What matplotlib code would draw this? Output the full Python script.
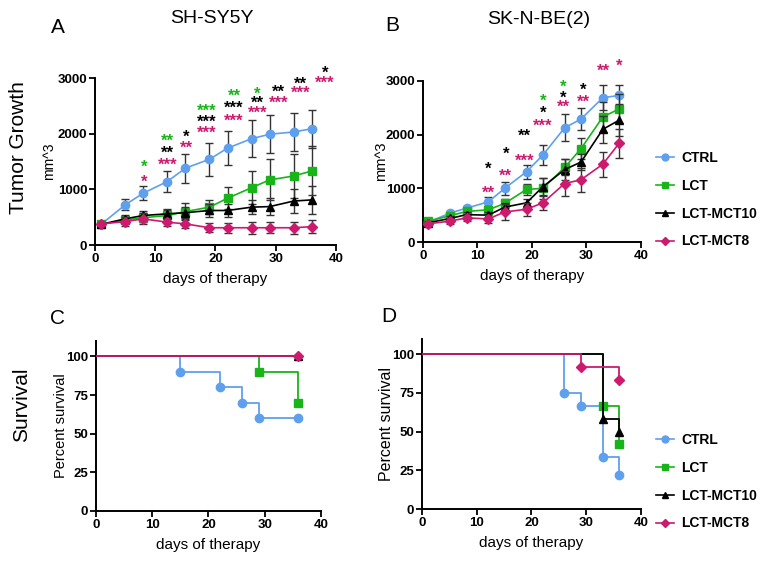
import matplotlib
matplotlib.use("Agg")
import matplotlib.pyplot as plt
from matplotlib.lines import Line2D

plt.rcParams["font.family"] = ["Liberation Sans", "DejaVu Sans"]

groups = ["CTRL", "LCT", "LCT-MCT10", "LCT-MCT8"]
colors = ["#5FA0EE", "#19B419", "#000000", "#CC1A6E"]
markers = ["o", "s", "^", "D"]

days = [1, 5, 8, 12, 15, 19, 22, 26, 29, 33, 36]

# Panel A: SH-SY5Y tumor volume (mm^3), mean and error
growth_a = [
    [370, 720, 930, 1140, 1380, 1540, 1740, 1910, 1990, 2030, 2090],
    [370, 450, 490, 530, 600, 680, 840, 1030, 1170, 1240, 1330],
    [370, 470, 530, 560, 580, 620, 620, 680, 690, 790, 810],
    [380, 420, 470, 410, 380, 310, 310, 310, 310, 310, 330],
]
err_a = [
    [30, 100, 125, 190, 260, 300, 310, 330, 340, 340, 340],
    [30, 60, 80, 100, 150, 130, 200, 300, 370, 400, 440],
    [30, 70, 80, 90, 100, 110, 110, 130, 160, 210, 250],
    [30, 80, 100, 70, 80, 80, 90, 110, 100, 110, 120],
]

# Panel B: SK-N-BE(2) tumor volume
growth_b = [
    [370, 540, 630, 750, 1000, 1310, 1620, 2130, 2290, 2690, 2730],
    [390, 490, 570, 600, 720, 980, 1000, 1390, 1740, 2330, 2480],
    [360, 440, 510, 500, 650, 730, 1030, 1350, 1490, 2100, 2270],
    [340, 390, 450, 430, 560, 610, 730, 1090, 1160, 1450, 1840],
]
err_b = [
    [30, 40, 50, 80, 120, 130, 180, 250, 200, 230, 190],
    [30, 40, 50, 70, 80, 100, 200, 150, 200, 280, 270],
    [30, 40, 50, 60, 80, 80, 170, 200, 150, 250, 300],
    [30, 50, 50, 80, 150, 120, 140, 230, 220, 230, 270],
]

# significance marks: (day, height, label, group index)
stars_a = [
    (8.1, 1500, "*", 1), (8.1, 1220, "*", 3),
    (12, 1970, "**", 1), (12, 1750, "**", 2), (12, 1540, "***", 3),
    (15.2, 2040, "*", 2), (15.2, 1830, "**", 3),
    (18.6, 2500, "***", 1), (18.6, 2310, "***", 2), (18.6, 2100, "***", 3),
    (23.1, 2770, "**", 1), (23.1, 2560, "***", 2), (23.1, 2330, "***", 3),
    (27, 2810, "*", 1), (27, 2640, "**", 2), (27, 2460, "***", 3),
    (30.5, 2840, "**", 2), (30.5, 2650, "***", 3),
    (34.1, 2990, "**", 2), (34.1, 2820, "***", 3),
    (38.2, 3190, "*", 2), (38.2, 3000, "***", 3),
]
stars_b = [
    (12, 1450, "*", 2), (12, 1020, "**", 3),
    (15.2, 1740, "*", 2), (15.2, 1330, "**", 3),
    (18.7, 2070, "**", 2), (18.7, 1610, "***", 3),
    (22, 2730, "*", 1), (22, 2510, "*", 2), (22, 2260, "***", 3),
    (25.8, 2990, "*", 1), (25.8, 2780, "*", 2), (25.8, 2620, "**", 3),
    (29.4, 2940, "*", 2), (29.4, 2710, "**", 3),
    (33.1, 3280, "**", 3),
    (36, 3370, "*", 3),
]

# Survival curves: event times and percent survival
surv_c_t = [[0, 15, 22, 26, 29, 36], [0, 29, 36], [0, 36], [0, 36]]
surv_c_s = [[100, 90, 80, 70, 60, 60], [100, 90, 70], [100, 100], [100, 100]]
surv_d_t = [[0, 26, 29, 33, 36], [0, 33, 36], [0, 33, 36], [0, 29, 36]]
surv_d_s = [[100, 75, 66.7, 33.3, 22.2], [100, 66.7, 41.7], [100, 58.3, 50], [100, 91.7, 83.3]]

fig = plt.figure(figsize=(7.66, 5.64), dpi=100)
ax_a = fig.add_axes([0.124, 0.5656, 0.3146, 0.2961])
ax_b = fig.add_axes([0.5522, 0.5709, 0.2846, 0.2855])
ax_c = fig.add_axes([0.1253, 0.0940, 0.2937, 0.3014])
ax_d = fig.add_axes([0.5509, 0.0975, 0.2859, 0.3023])


def style(ax):
    for s in ["top", "right"]:
        ax.spines[s].set_visible(False)
    for s in ["left", "bottom"]:
        ax.spines[s].set_linewidth(1.4)
    ax.tick_params(width=1.3, length=4, labelsize=9.5, pad=1.5)
    for lab in ax.get_xticklabels() + ax.get_yticklabels():
        lab.set_fontweight("bold")


def growth(ax, means, errs, stars):
    for i in range(4):
        ax.errorbar(days, means[i], yerr=errs[i], color=colors[i], marker=markers[i],
                    markersize=6 if markers[i] != "D" else 5, lw=1.2, ecolor="#333333",
                    elinewidth=1, capsize=3, capthick=1, clip_on=False, zorder=3 + i)
    for d, h, lab, g in stars:
        ax.annotate(lab, (d, h), xytext=(0, -4), textcoords="offset points", ha="center",
                    va="center", color=colors[g], fontsize=12, fontweight="bold",
                    annotation_clip=False)
    ax.set_xlim(0, 40)
    ax.set_ylim(0, 3000)
    ax.set_xticks([0, 10, 20, 30, 40])
    ax.set_yticks([0, 1000, 2000, 3000])
    ax.set_xlabel("days of therapy", fontsize=11, labelpad=5)
    style(ax)


def survival(ax, times, surv):
    for i in range(4):
        ax.step(times[i], surv[i], where="post", color=colors[i], lw=1.3, zorder=3 + i)
        ax.plot(times[i][1:], surv[i][1:], ls="none", marker=markers[i], color=colors[i],
                markersize=6 if markers[i] != "D" else 5, clip_on=False, zorder=3 + i)
    ax.set_xlim(0, 40)
    ax.set_ylim(0, 110)
    ax.set_xticks([0, 10, 20, 30, 40])
    ax.set_yticks([0, 25, 50, 75, 100])
    ax.set_xlabel("days of therapy", fontsize=11, labelpad=5)
    style(ax)


growth(ax_a, growth_a, err_a, stars_a)
growth(ax_b, growth_b, err_b, stars_b)
survival(ax_c, surv_c_t, surv_c_s)
survival(ax_d, surv_d_t, surv_d_s)

ax_a.set_ylabel("mm^3", fontsize=10, labelpad=1)
ax_b.set_ylabel("mm^3", fontsize=10.5, labelpad=-2)
ax_c.set_ylabel("Percent survival", fontsize=10.5, labelpad=-1)
ax_d.set_ylabel("Percent survival", fontsize=11.5, labelpad=-1)

fig.text(0.2768, 0.968, "SH-SY5Y", fontsize=14, ha="center", va="center")
fig.text(0.7037, 0.966, "SK-N-BE(2)", fontsize=14, ha="center", va="center")
fig.text(0.076, 0.952, "A", fontsize=15, ha="center", va="center")
fig.text(0.512, 0.955, "B", fontsize=15, ha="center", va="center")
fig.text(0.075, 0.436, "C", fontsize=15, ha="center", va="center")
fig.text(0.507, 0.438, "D", fontsize=15, ha="center", va="center")
fig.text(0.024, 0.738, "Tumor Growth", fontsize=15, rotation=90, ha="center", va="center")
fig.text(0.028, 0.282, "Survival", fontsize=15, rotation=90, ha="center", va="center")

handles = [Line2D([], [], color=colors[i], marker=markers[i], lw=1.2,
                  markersize=5 if markers[i] != "D" else 4) for i in range(4)]
for y in [0.745, 0.245]:
    fig.legend(handles, groups, loc="upper left", bbox_to_anchor=(0.847, y), frameon=False,
               borderpad=0, handlelength=1.3, handletextpad=0.55, labelspacing=1.0,
               prop={"size": 10, "weight": "bold"})

fig.savefig("out.png", dpi=100)
